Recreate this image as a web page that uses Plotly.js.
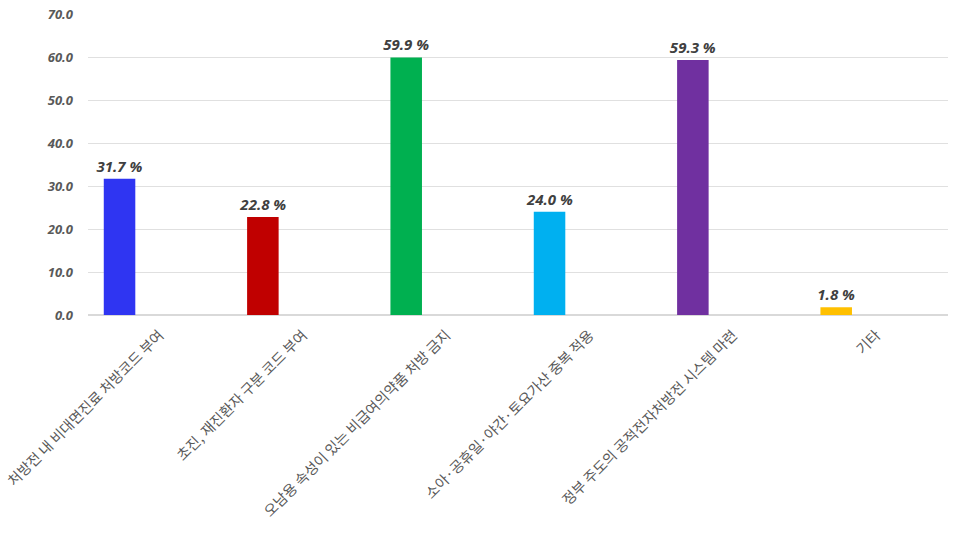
<!DOCTYPE html>
<html>
<head>
<meta charset="utf-8">
<script src="https://cdn.plot.ly/plotly-3.0.1.min.js"></script>
<style>
  html, body { margin: 0; padding: 0; background: #fff; }
  #chart { width: 960px; height: 534px; }
</style>
</head>
<body>
<div id="chart"></div>
<script>
const categories = [
    '처방전 내 비대면진료 처방코드 부여',
    '초진, 재진환자 구분 코드 부여',
    '오남용 속성이 있는 비급여의약품 처방 금지',
    '소아·공휴일·야간·토요가산 중복 적용',
    '정부 주도의 공적전자처방전 시스템 마련',
    '기타'
]
const values = [31.7, 22.8, 59.9, 24.0, 59.3, 1.8]
const barColors = ['#2f35f2', '#c00000', '#00b050', '#00b0f0', '#7030a0', '#ffc000']
const yTicks = [0, 10, 20, 30, 40, 50, 60, 70]

const labels = values.map(v => `${v.toFixed(1)} %`)

const trace = {
    x: categories,
    y: values,
    type: 'bar',
    offset: -0.39,
    width: 0.22,
    marker: { color: barColors, line: { width: 0 } },
    text: labels,
    textposition: 'outside',
    constraintext: 'none',
    cliponaxis: false,
    textfont: {
        family: 'Noto Sans, Open Sans, sans-serif',
        size: 15,
        color: '#404040',
        weight: 'bold',
        style: 'italic'
    },
    hoverinfo: 'none'
}

const layout = {
    width: 960,
    height: 534,
    paper_bgcolor: '#ffffff',
    plot_bgcolor: '#ffffff',
    margin: { l: 88, r: 12, t: 14, b: 219 },
    showlegend: false,
    font: { family: 'Noto Sans CJK KR, sans-serif', color: '#595959' },
    xaxis: {
        type: 'category',
        tickangle: -45,
        tickfont: { family: 'Noto Sans CJK KR, sans-serif', size: 14.5, color: '#595959' },
        ticklabelstandoff: 8,
        showgrid: false,
        showline: false,
        ticks: '',
        automargin: false
    },
    yaxis: {
        range: [0, 70],
        tickvals: yTicks,
        tickformat: '.1f',
        tickfont: { family: 'Noto Sans, sans-serif', size: 13, color: '#595959', style: 'italic', weight: 'bold' },
        ticklabelstandoff: 14,
        showgrid: true,
        gridcolor: '#e0e0e0',
        gridwidth: 1,
        zeroline: true,
        zerolinecolor: '#d9d9d9',
        zerolinewidth: 1.5,
        showline: false,
        ticks: '',
        automargin: false
    }
}

const config = {
    displayModeBar: false,
    staticPlot: true
}

Plotly.newPlot('chart', [trace], layout, config)
</script>
</body>
</html>
